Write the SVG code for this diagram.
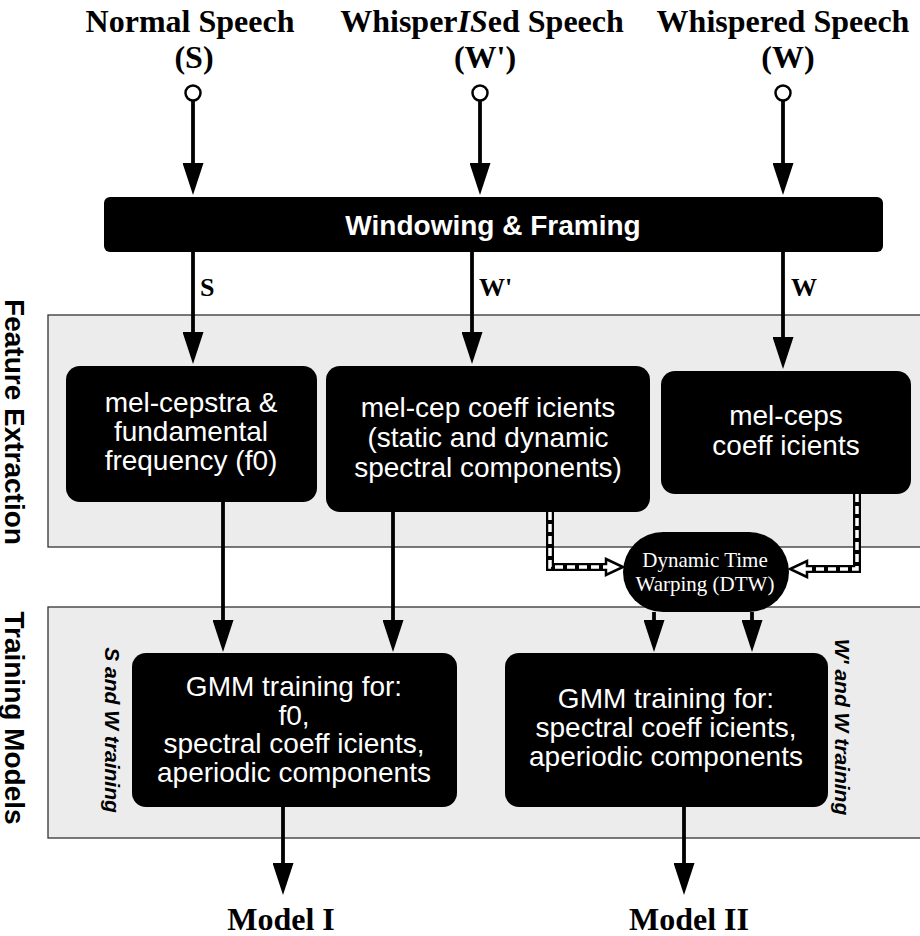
<svg xmlns="http://www.w3.org/2000/svg" width="920" height="936" viewBox="0 0 920 936">
<style>
.title{font-family:"Liberation Serif","Times New Roman",serif;font-weight:bold;font-size:32px;fill:#000;text-anchor:middle}
.lbl{font-family:"Liberation Serif","Times New Roman",serif;font-weight:bold;font-size:26px;fill:#000}
.node{fill:#000}
.nt{font-family:"Liberation Sans",Arial,sans-serif;font-size:28px;fill:#fff;text-anchor:middle}
.dtw{font-family:"Liberation Serif","Times New Roman",serif;font-size:21px;fill:#fff;text-anchor:middle}
.panel{fill:#ececec;stroke:#333;stroke-width:1.3}
.side{font-family:"Liberation Sans",Arial,sans-serif;font-weight:bold;font-size:28px;fill:#000;text-anchor:middle}
.sub{font-family:"Liberation Sans",Arial,sans-serif;font-weight:bold;font-style:italic;font-size:21px;fill:#000;text-anchor:middle}
.ln{fill:none;stroke:#000;stroke-width:3.8}
.dashb{fill:none;stroke:#000;stroke-width:8}
.dashw{fill:none;stroke:#fff;stroke-width:3.5;stroke-dasharray:8 4}
.port{fill:#fff;stroke:#000;stroke-width:2.5}
</style>
<defs>
<marker id="arr" viewBox="0 0 32 21" markerWidth="32" markerHeight="21" refX="26" refY="10.5" orient="auto" markerUnits="userSpaceOnUse">
<path d="M0,0 L32,10.5 L0,21 z" fill="#000"/>
</marker>
<marker id="harr" viewBox="0 0 22 22" markerWidth="22" markerHeight="22" refX="6" refY="11" orient="auto" markerUnits="userSpaceOnUse">
<path d="M2,3 L19,11 L2,19 z" fill="#fff" stroke="#000" stroke-width="2.5"/>
</marker>
</defs>
<rect width="920" height="936" fill="#fff"/>

<g id="panel-feature">
<rect class="panel" x="48" y="315" width="885" height="232"/>
<text class="side" transform="translate(5,422) rotate(90)">Feature Extraction</text>
</g>
<g id="panel-training">
<rect class="panel" x="48" y="607" width="885" height="231"/>
<text class="side" transform="translate(5,718) rotate(90)">Training Models</text>
<text class="sub" transform="translate(105,730) rotate(90)">S and W training</text>
<text class="sub" transform="translate(835,727) rotate(90)">W' and W training</text>
</g>

<g id="input-s">
<text class="title" x="190" y="32">Normal Speech</text>
<text class="title" x="194" y="68">(S)</text>
<circle class="port" cx="193" cy="93" r="7.5"/>
</g>
<g id="input-wprime">
<text class="title" x="482" y="32">Whisper<tspan font-style="italic">IS</tspan>ed Speech</text>
<text class="title" x="485" y="68">(W')</text>
<circle class="port" cx="480" cy="93" r="7.5"/>
</g>
<g id="input-w">
<text class="title" x="783" y="32">Whispered Speech</text>
<text class="title" x="788" y="68">(W)</text>
<circle class="port" cx="783" cy="93" r="7.5"/>
</g>

<g id="windowing">
<rect class="node" x="104" y="197" width="779" height="55" rx="6"/>
<text class="nt" x="493" y="235" font-weight="bold" font-size="29">Windowing &amp; Framing</text>
</g>

<g id="melcep-s">
<rect class="node" x="66" y="366" width="251" height="136" rx="14"/>
<text class="nt" x="191" y="412">mel-cepstra &amp;</text>
<text class="nt" x="191" y="441">fundamental</text>
<text class="nt" x="191" y="470">frequency (f0)</text>
</g>
<g id="melcep-wprime">
<rect class="node" x="326" y="366" width="324" height="146" rx="14"/>
<text class="nt" x="488" y="417">mel-cep coeff icients</text>
<text class="nt" x="488" y="447">(static and dynamic</text>
<text class="nt" x="488" y="477">spectral components)</text>
</g>
<g id="melcep-w">
<rect class="node" x="661" y="371" width="250" height="123" rx="14"/>
<text class="nt" x="786" y="425">mel-ceps</text>
<text class="nt" x="786" y="455">coeff icients</text>
</g>

<g id="dtw">
<rect class="node" x="623" y="532" width="166" height="80" rx="40"/>
<text class="dtw" x="705" y="567">Dynamic Time</text>
<text class="dtw" x="705" y="591">Warping (DTW)</text>
</g>

<g id="gmm1">
<rect class="node" x="132" y="653" width="325" height="154" rx="14"/>
<text class="nt" x="294" y="696">GMM training for:</text>
<text class="nt" x="294" y="724.5">f0,</text>
<text class="nt" x="294" y="753">spectral coeff icients,</text>
<text class="nt" x="294" y="781.5">aperiodic components</text>
</g>
<g id="gmm2">
<rect class="node" x="505" y="653" width="323" height="154" rx="14"/>
<text class="nt" x="666" y="708">GMM training for:</text>
<text class="nt" x="666" y="737">spectral coeff icients,</text>
<text class="nt" x="666" y="766">aperiodic components</text>
</g>

<g id="out-model1">
<text class="title" x="281" y="930">Model I</text>
</g>
<g id="out-model2">
<text class="title" x="689" y="930">Model II</text>
</g>

<g id="connectors">
<line class="ln" x1="193" y1="101" x2="193" y2="189" marker-end="url(#arr)"/>
<line class="ln" x1="480" y1="101" x2="480" y2="189" marker-end="url(#arr)"/>
<line class="ln" x1="783" y1="101" x2="783" y2="189" marker-end="url(#arr)"/>
<line class="ln" x1="193" y1="252" x2="193" y2="358" marker-end="url(#arr)"/>
<line class="ln" x1="472" y1="252" x2="472" y2="358" marker-end="url(#arr)"/>
<line class="ln" x1="783" y1="252" x2="783" y2="363" marker-end="url(#arr)"/>
<text class="lbl" x="200" y="296">S</text>
<text class="lbl" x="479" y="296">W'</text>
<text class="lbl" x="791" y="296">W</text>
<line class="ln" x1="223" y1="502" x2="223" y2="646" marker-end="url(#arr)"/>
<line class="ln" x1="393" y1="512" x2="393" y2="646" marker-end="url(#arr)"/>
<path class="dashb" d="M550,512 V567 H610" marker-end="url(#harr)"/>
<path class="dashw" d="M550,512 V567 H612"/>
<path class="dashb" d="M857,494 V569 H803" marker-end="url(#harr)"/>
<path class="dashw" d="M857,494 V569 H801"/>
<line class="ln" x1="654" y1="612" x2="654" y2="646" marker-end="url(#arr)"/>
<line class="ln" x1="752" y1="612" x2="752" y2="646" marker-end="url(#arr)"/>
<line class="ln" x1="283" y1="807" x2="283" y2="889" marker-end="url(#arr)"/>
<line class="ln" x1="684" y1="807" x2="684" y2="889" marker-end="url(#arr)"/>
</g>
</svg>
